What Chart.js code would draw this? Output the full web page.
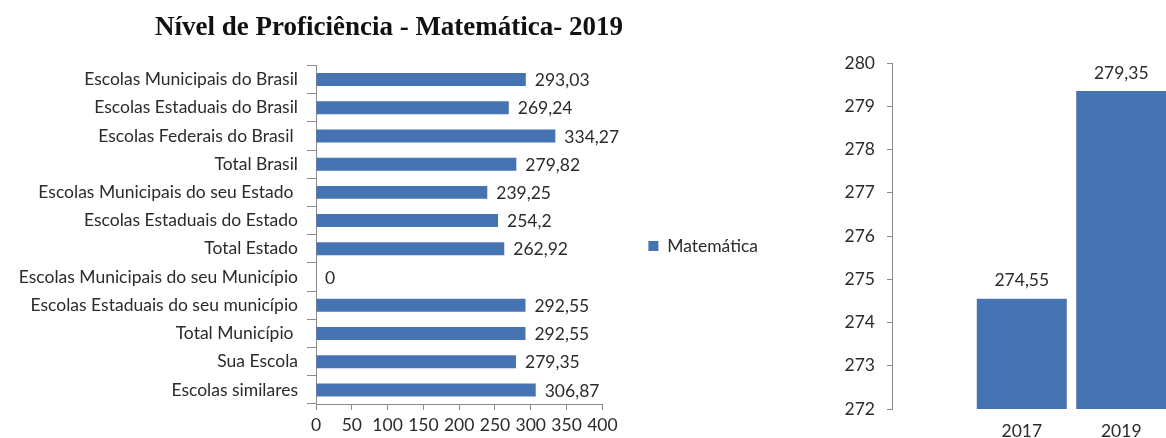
<!DOCTYPE html>
<html lang="pt-BR">
<head>
<meta charset="utf-8">
<title>Nível de Proficiência - Matemática - 2019</title>
<script src="https://cdn.jsdelivr.net/npm/chart.js@4.4.1/dist/chart.umd.min.js"></script>
<style>
  html, body { margin: 0; padding: 0; background: #fff; overflow: hidden; }
  #wrap { position: relative; width: 1166px; height: 438px; }
  #esquerda { position: absolute; left: 0; top: 0; }
  #direita { position: absolute; left: 820px; top: 0; }
</style>
</head>
<body>
<div id="wrap">
  <canvas id="esquerda" width="768" height="438"></canvas>
  <canvas id="direita" width="346" height="438"></canvas>
</div>
<script>
// dados do gráfico
const categorias = [
  "Escolas Municipais do Brasil",
  "Escolas Estaduais do Brasil",
  "Escolas Federais do Brasil ",
  "Total Brasil",
  "Escolas Municipais do seu Estado ",
  "Escolas Estaduais do Estado",
  "Total Estado",
  "Escolas Municipais do seu Município",
  "Escolas Estaduais do seu município",
  "Total Município ",
  "Sua Escola",
  "Escolas similares"
];
const notas = [293.03, 269.24, 334.27, 279.82, 239.25, 254.2, 262.92, 0, 292.55, 292.55, 279.35, 306.87];

const anos = [2017, 2019];
const notasEscola = [274.55, 279.35];

const azul = "#4673b1";
const cinzaEixo = "#8a8a8a";
const corTexto = "#2b2b2b";
const fonte = { family: "Lato", size: 17.5 };

// escreve o valor de cada barra (com vírgula decimal)
const rotulosValores = {
  id: "rotulosValores",
  afterDatasetsDraw(chart, args, opts) {
    const ctx = chart.ctx;
    const meta = chart.getDatasetMeta(0);
    const dados = chart.data.datasets[0].data;
    ctx.save();
    ctx.font = opts.font;
    ctx.fillStyle = corTexto;
    ctx.textBaseline = "middle";
    meta.data.forEach((barra, i) => {
      const v = typeof dados[i] === "object" ? dados[i].y : dados[i];
      const txt = String(v).replace(".", ",");
      if (opts.horizontal) {
        ctx.textAlign = "left";
        ctx.fillText(txt, barra.x + opts.offset, barra.y + 1);
      } else {
        ctx.textAlign = "center";
        ctx.fillText(txt, barra.x, barra.y - opts.offset);
      }
    });
    ctx.restore();
  }
};

// desce a legenda um pouco (no original ela fica abaixo do meio)
const desceLegenda = {
  id: "desceLegenda",
  afterLayout(chart, args, opts) {
    chart.legend.top += opts.dy;
    chart.legend.bottom += opts.dy;
  }
};

new Chart(document.getElementById("esquerda"), {
  type: "bar",
  data: {
    labels: categorias,
    datasets: [{
      label: "Matemática",
      data: notas,
      backgroundColor: azul,
      barPercentage: 0.46,
      categoryPercentage: 1
    }]
  },
  plugins: [rotulosValores, desceLegenda],
  options: {
    indexAxis: "y",
    responsive: false,
    animation: false,
    layout: { padding: { left: 10, right: 0, top: 0, bottom: 0 } },
    plugins: {
      title: {
        display: true,
        text: "Nível de Proficiência - Matemática- 2019",
        color: "#111",
        font: { family: "Liberation Serif", weight: "bold", size: 27 },
        padding: { top: 12, bottom: 21 }
      },
      legend: {
        position: "right",
        labels: {
          boxWidth: 10,
          boxHeight: 10,
          padding: 46,
          color: corTexto,
          font: fonte
        }
      },
      tooltip: { enabled: false },
      desceLegenda: { dy: 27 },
      rotulosValores: { horizontal: true, offset: 9, font: "17.5px Lato" }
    },
    scales: {
      x: {
        min: 0,
        max: 400,
        ticks: { stepSize: 50, autoSkip: false, maxRotation: 0, padding: 5, color: corTexto, font: fonte },
        grid: { drawOnChartArea: false, tickLength: 6, color: cinzaEixo },
        border: { color: cinzaEixo },
        afterFit: (s) => { s.height = 34; }
      },
      y: {
        ticks: { autoSkip: false, padding: 9, color: corTexto, font: fonte },
        grid: { drawOnChartArea: false, tickLength: 9, color: cinzaEixo },
        border: { color: cinzaEixo },
        afterFit: (s) => { s.width = 306; }
      }
    }
  }
});

new Chart(document.getElementById("direita"), {
  type: "bar",
  data: {
    datasets: [{
      label: "Matemática",
      data: anos.map((a, i) => ({ x: a, y: notasEscola[i] })),
      backgroundColor: azul,
      barPercentage: 1,
      categoryPercentage: 0.905
    }]
  },
  plugins: [rotulosValores],
  options: {
    responsive: false,
    animation: false,
    layout: { padding: { left: 0, right: 0, top: 63, bottom: 0 } },
    plugins: {
      legend: { display: false },
      tooltip: { enabled: false },
      rotulosValores: { horizontal: false, offset: 18, font: "17.5px Lato" }
    },
    scales: {
      x: {
        type: "linear",
        min: 2014.39,
        max: 2019.9,
        offset: false,
        afterBuildTicks: (s) => { s.ticks = anos.map((a) => ({ value: a })); },
        ticks: { callback: (v) => String(v), padding: 12, color: corTexto, font: fonte },
        grid: { display: false, drawTicks: false },
        border: { display: false },
        afterFit: (s) => { s.height = 29; }
      },
      y: {
        min: 272,
        max: 280,
        ticks: { stepSize: 1, padding: 12, color: corTexto, font: fonte },
        grid: { drawOnChartArea: false, tickLength: 5, color: cinzaEixo },
        border: { color: cinzaEixo },
        afterFit: (s) => { s.width = 72; }
      }
    }
  }
});
</script>
</body>
</html>
